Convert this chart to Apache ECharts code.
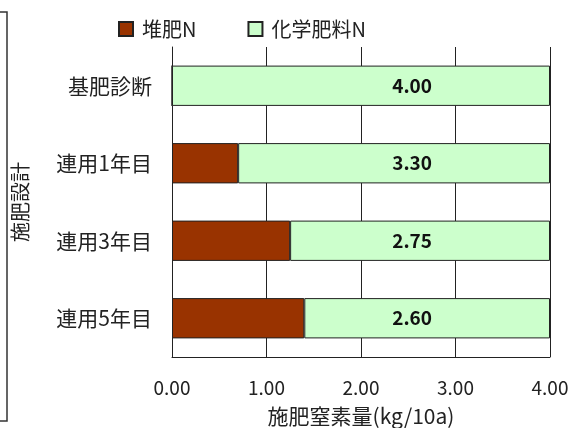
<!DOCTYPE html>
<html>
<head>
<meta charset="utf-8">
<script src="https://cdn.jsdelivr.net/npm/echarts@6/dist/echarts.min.js"></script>
<style>
  html, body { margin: 0; padding: 0; background: #fff; }
  #chart { width: 571px; height: 428px; }
</style>
</head>
<body>
<div id="chart"></div>
<script>
// 区分 (上から順)
const categories = ['基肥診断', '連用1年目', '連用3年目', '連用5年目'];
// 堆肥由来の窒素 (kg/10a)
const compostN = [0, 0.70, 1.25, 1.40];
// 化学肥料の窒素 (kg/10a)
const chemicalN = [4.00, 3.30, 2.75, 2.60];
const xTicks = [0, 1, 2, 3, 4];

const font = '"Noto Sans CJK JP", "Noto Sans", sans-serif';
const chart = echarts.init(document.getElementById('chart'));

chart.setOption({
    backgroundColor: '#ffffff',
    animation: false,
    textStyle: { fontFamily: font },
    legend: {
        top: 14,
        left: 113,
        icon: 'rect',
        itemWidth: 14,
        itemHeight: 14,
        itemGap: 51,
        textStyle: { fontSize: 20, color: '#222', fontFamily: font, padding: [0, 0, 0, 4] },
        data: ['堆肥N', '化学肥料N']
    },
    grid: { left: 172, right: 21, top: 47, bottom: 71, outerBoundsMode: 'none', containLabel: false },
    xAxis: {
        type: 'value',
        min: xTicks[0],
        max: xTicks[xTicks.length - 1],
        interval: 1,
        name: '施肥窒素量(kg/10a)',
        nameLocation: 'middle',
        nameGap: 49,
        nameTextStyle: { fontSize: 21, color: '#222', fontFamily: font },
        axisLine: { show: true, lineStyle: { color: '#222', width: 1 } },
        axisTick: { show: false },
        axisLabel: {
            margin: 21,
            fontSize: 19,
            color: '#222',
            formatter: v => v.toFixed(2)
        },
        splitLine: { show: true, lineStyle: { color: '#222', width: 1 } }
    },
    yAxis: {
        type: 'category',
        data: categories,
        inverse: true,
        name: '施肥設計',
        nameLocation: 'middle',
        nameRotate: 90,
        nameGap: 142,
        nameTextStyle: { fontSize: 20, color: '#222', fontFamily: font },
        axisLine: { show: true, lineStyle: { color: '#222', width: 1 } },
        axisTick: { show: false },
        axisLabel: { margin: 20, fontSize: 21, color: '#222' }
    },
    series: [
        {
            name: '堆肥N',
            type: 'bar',
            stack: 'n',
            barCategoryGap: '48%',
            data: compostN,
            itemStyle: { color: '#993300', borderColor: '#222', borderWidth: 1 }
        },
        {
            name: '化学肥料N',
            type: 'bar',
            stack: 'n',
            barCategoryGap: '48%',
            data: chemicalN,
            itemStyle: { color: '#ccffcc', borderColor: '#222', borderWidth: 1 },
            label: {
                show: true,
                position: 'insideRight',
                distance: 118,
                fontSize: 19,
                fontWeight: 'bold',
                color: '#111',
                formatter: p => p.value.toFixed(2)
            }
        }
    ],
    graphic: [
        {
            type: 'polyline',
            shape: { points: [[0, 12], [7, 12], [7, 421], [0, 421]] },
            style: { fill: null, stroke: '#333', lineWidth: 1.5 }
        }
    ]
});
</script>
</body>
</html>
